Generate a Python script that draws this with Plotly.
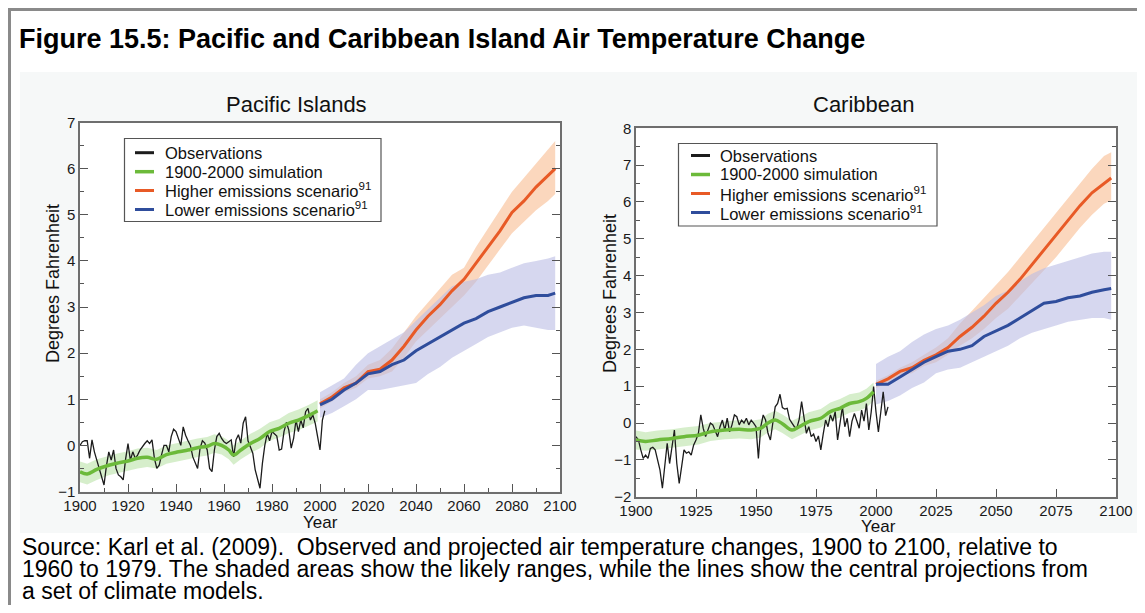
import plotly.graph_objects as go

PAGE_W, PAGE_H = 1145, 613
BODY_MARGIN = 8
W, H = PAGE_W - 2 * BODY_MARGIN, PAGE_H - 2 * BODY_MARGIN
F = "Arial, 'Liberation Sans', sans-serif"

# ---------------- data ----------------
pac_obs_years = list(range(1900, 2003))
pac_obs = [0.0, 0.08, 0.1, 0.1, -0.28, 0.12, -0.14, -0.32, -0.5, -0.7,
           -0.86, -0.45, -0.14, -0.32, -0.1, -0.5, -0.64, -0.68, -0.75, -0.3,
           0.04, -0.32, -0.14, -0.28, -0.21, -0.1, -0.02, 0.04, 0.1, 0.04,
           0.12, -0.28, -0.5, -0.43, -0.2, 0.0, 0.0, -0.14, 0.19, 0.35,
           0.3, 0.15, 0.0, 0.4, 0.22, 0.1, 0.0, -0.25, -0.39, -0.5,
           -0.07, 0.1, 0.05, -0.1, -0.5, -0.57, -0.1, 0.19, 0.26, 0.15,
           0.08, 0.04, 0.08, 0.12, -0.25, 0.12, 0.23, 0.05, 0.48, 0.62,
           0.1, -0.05, -0.17, -0.53, -0.75, -0.93, -0.39, 0.0, 0.26, 0.1,
           0.3, 0.25, 0.2, -0.1, -0.08, 0.3, 0.5, 0.33, -0.06, 0.15,
           0.55, 0.3, 0.55, 0.38, 0.73, 0.8, 0.55, 0.66, 0.48, 0.19,
           -0.1, 0.55, 0.75]

pac_sim_years = [1900, 1903, 1907, 1912, 1916, 1920, 1924, 1928, 1932, 1936, 1941, 1945, 1949, 1953,
                 1956, 1959, 1962, 1964, 1967, 1971, 1975, 1979, 1983, 1987, 1991, 1995, 1999]
pac_sim = [-0.57, -0.62, -0.52, -0.43, -0.38, -0.34, -0.28, -0.26, -0.3, -0.2, -0.14, -0.1, -0.05, -0.02,
           0.04, 0.0, -0.1, -0.21, -0.1, 0.04, 0.15, 0.3, 0.37, 0.48, 0.55, 0.64, 0.75]
pac_sim_hi = [-0.35, -0.4, -0.3, -0.22, -0.17, -0.13, -0.07, -0.05, -0.1, 0.0, 0.06, 0.1, 0.15, 0.18,
              0.24, 0.2, 0.1, 0.0, 0.1, 0.25, 0.36, 0.5, 0.57, 0.7, 0.78, 0.87, 0.98]
pac_sim_lo = [-0.8, -0.85, -0.75, -0.65, -0.6, -0.55, -0.5, -0.47, -0.5, -0.4, -0.34, -0.3, -0.25, -0.22,
              -0.16, -0.2, -0.3, -0.42, -0.3, -0.17, -0.06, 0.1, 0.17, 0.27, 0.33, 0.42, 0.52]

proj_years = [2000, 2005, 2010, 2015, 2020, 2025, 2030, 2035, 2040, 2045, 2050,
              2055, 2060, 2065, 2070, 2075, 2080, 2085, 2090, 2095, 2098]

pac_high = [0.9, 1.05, 1.25, 1.35, 1.6, 1.65, 1.85, 2.15, 2.5, 2.8, 3.05,
            3.35, 3.6, 3.95, 4.3, 4.65, 5.05, 5.3, 5.6, 5.85, 6.0]
pac_high_hi = [1.0, 1.15, 1.35, 1.5, 1.75, 1.85, 2.1, 2.45, 2.8, 3.1, 3.4,
               3.7, 3.85, 4.3, 4.7, 5.1, 5.5, 5.8, 6.1, 6.4, 6.6]
pac_high_lo = [0.8, 0.95, 1.15, 1.25, 1.45, 1.5, 1.6, 1.9, 2.25, 2.5, 2.75,
               3.0, 3.25, 3.55, 3.9, 4.25, 4.6, 4.85, 5.1, 5.3, 5.45]
pac_low = [0.88, 1.0, 1.2, 1.35, 1.55, 1.6, 1.75, 1.85, 2.05, 2.2, 2.35,
           2.5, 2.65, 2.75, 2.9, 3.0, 3.1, 3.2, 3.25, 3.25, 3.3]
pac_low_hi = [1.15, 1.3, 1.45, 1.75, 2.0, 2.15, 2.3, 2.45, 2.7, 2.95, 3.2,
              3.45, 3.55, 3.6, 3.7, 3.75, 3.85, 3.95, 4.0, 4.05, 4.1]
pac_low_lo = [0.6, 0.7, 0.85, 1.0, 1.2, 1.2, 1.25, 1.3, 1.35, 1.55, 1.7,
              1.9, 2.05, 2.2, 2.35, 2.45, 2.55, 2.6, 2.55, 2.5, 2.5]

car_obs_years = list(range(1900, 2006))
car_obs = [-0.37, -0.46, -0.73, -0.96, -0.87, -0.96, -0.69, -0.66, -0.73, -1.0,
           -1.28, -1.77, -1.1, -0.55, -1.1, -0.69, -0.19, -1.1, -1.64, -1.19,
           -0.73, -0.82, -0.78, -0.87, -0.6, -0.46, -0.28, 0.22, -0.14, -0.37,
           -0.19, 0.0, -0.05, -0.24, -0.37, -0.1, 0.08, -0.19, 0.13, -0.24,
           -0.05, 0.22, 0.17, -0.05, 0.08, 0.0, 0.13, -0.05, 0.08, 0.0,
           -0.1, -0.96, -0.1, 0.22, 0.08, -0.28, -0.46, 0.0, 0.44, 0.53,
           0.78, 0.42, 0.38, 0.4, 0.1, 0.0, -0.1, -0.14, 0.1, 0.58,
           0.08, -0.28, -0.1, -0.37, -0.3, -0.5, -0.35, -0.73, -0.3, 0.08,
           -0.1, 0.22, 0.05, 0.31, -0.46, 0.0, 0.44, -0.1, 0.13, -0.37,
           0.05, 0.26, 0.05, -0.14, 0.35, 0.05, 0.53, -0.19, 0.3, 0.99,
           0.3, -0.24, 0.3, 0.85, 0.2, 0.44]

car_sim_years = [1900, 1904, 1909, 1915, 1920, 1926, 1931, 1937, 1943, 1948, 1952, 1955,
                 1958, 1961, 1965, 1968, 1972, 1977, 1981, 1985, 1989, 1993, 1996, 1999]
car_sim = [-0.46, -0.5, -0.46, -0.42, -0.37, -0.33, -0.24, -0.19, -0.17, -0.19, -0.14, 0.0,
           0.08, -0.02, -0.19, -0.1, 0.04, 0.13, 0.31, 0.4, 0.53, 0.58, 0.67, 0.85]
car_sim_hi = [-0.2, -0.25, -0.2, -0.17, -0.12, -0.08, 0.0, 0.05, 0.08, 0.06, 0.1, 0.25,
              0.33, 0.23, 0.06, 0.15, 0.29, 0.38, 0.56, 0.65, 0.78, 0.83, 0.93, 1.1]
car_sim_lo = [-0.72, -0.75, -0.72, -0.67, -0.62, -0.58, -0.49, -0.44, -0.42, -0.44, -0.39, -0.25,
              -0.17, -0.27, -0.44, -0.35, -0.21, -0.12, 0.06, 0.15, 0.28, 0.33, 0.42, 0.6]

car_high = [1.05, 1.2, 1.4, 1.5, 1.7, 1.85, 2.05, 2.35, 2.6, 2.9, 3.25,
            3.55, 3.9, 4.3, 4.7, 5.1, 5.5, 5.9, 6.25, 6.5, 6.65]
car_high_hi = [1.15, 1.3, 1.5, 1.65, 1.85, 2.05, 2.3, 2.7, 3.05, 3.4, 3.75,
               4.1, 4.5, 4.9, 5.3, 5.7, 6.1, 6.5, 6.9, 7.25, 7.35]
car_high_lo = [0.95, 1.1, 1.3, 1.35, 1.55, 1.65, 1.85, 2.1, 2.3, 2.55, 2.85,
               3.1, 3.45, 3.8, 4.15, 4.5, 4.9, 5.3, 5.65, 5.95, 6.05]
car_low = [1.05, 1.05, 1.25, 1.45, 1.65, 1.8, 1.95, 2.0, 2.1, 2.35, 2.5,
           2.65, 2.85, 3.05, 3.25, 3.3, 3.4, 3.45, 3.55, 3.62, 3.65]
car_low_hi = [1.6, 1.8, 1.95, 2.2, 2.4, 2.55, 2.65, 2.8, 3.0, 3.2, 3.45,
              3.6, 3.85, 4.05, 4.2, 4.3, 4.4, 4.5, 4.6, 4.65, 4.65]
car_low_lo = [0.5, 0.6, 0.75, 0.95, 1.1, 1.35, 1.45, 1.5, 1.65, 1.8, 1.95,
              2.1, 2.3, 2.45, 2.55, 2.65, 2.75, 2.8, 2.85, 2.85, 2.8]

legend_names = ["Observations", "1900-2000 simulation",
                "Higher emissions scenario<sup>91</sup>", "Lower emissions scenario<sup>91</sup>"]

caption_lines = [
    "Source: Karl et al. (2009).  Observed and projected air temperature changes, 1900 to 2100, relative to",
    "1960 to 1979. The shaded areas show the likely ranges, while the lines show the central projections from",
    "a set of climate models.",
]

# ---------------- styles ----------------
C_OBS = "#1c1c1c"
C_SIM = "#6cba3a"
C_HIGH = "#e85a26"
C_LOW = "#2f4d9c"
B_SIM = "rgba(200,232,185,0.75)"
B_HIGH = "rgba(250,205,172,0.8)"
B_LOW = "rgba(186,188,228,0.6)"
LEGEND_COLORS = [C_OBS, C_SIM, C_HIGH, C_LOW]
LEGEND_WIDTHS = [3, 3.5, 3, 3]


def px(x):
    """page pixel x -> paper fraction"""
    return (x - BODY_MARGIN) / W


def py(y):
    """page pixel y -> paper fraction"""
    return 1 - (y - BODY_MARGIN) / H


def band(x, hi, lo, color, xa, ya):
    return go.Scatter(x=list(x) + list(x)[::-1], y=list(hi) + list(lo)[::-1],
                      fill="toself", fillcolor=color, line=dict(width=0),
                      mode="lines", showlegend=False, hoverinfo="skip",
                      xaxis=xa, yaxis=ya)


fig = go.Figure()

panels = [
    ("x", "y", pac_obs_years, pac_obs, pac_sim_years, pac_sim, pac_sim_hi, pac_sim_lo,
     pac_high, pac_high_hi, pac_high_lo, pac_low, pac_low_hi, pac_low_lo),
    ("x2", "y2", car_obs_years, car_obs, car_sim_years, car_sim, car_sim_hi, car_sim_lo,
     car_high, car_high_hi, car_high_lo, car_low, car_low_hi, car_low_lo),
]

for (xa, ya, oy, ov, sy, sv, shi, slo, hv, hhi, hlo, lv, lhi, llo) in panels:
    fig.add_trace(band(sy, shi, slo, B_SIM, xa, ya))
    fig.add_trace(band(proj_years, hhi, hlo, B_HIGH, xa, ya))
    fig.add_trace(band(proj_years, lhi, llo, B_LOW, xa, ya))
    fig.add_trace(go.Scatter(x=oy, y=ov, mode="lines", name=legend_names[0], showlegend=False,
                             line=dict(color=C_OBS, width=1.3), xaxis=xa, yaxis=ya))
    fig.add_trace(go.Scatter(x=sy, y=sv, mode="lines", name=legend_names[1], showlegend=False,
                             line_shape="spline", line=dict(color=C_SIM, width=3.5), xaxis=xa, yaxis=ya))
    fig.add_trace(go.Scatter(x=proj_years, y=hv, mode="lines", name=legend_names[2], showlegend=False,
                             line=dict(color=C_HIGH, width=3), xaxis=xa, yaxis=ya))
    fig.add_trace(go.Scatter(x=proj_years, y=lv, mode="lines", name=legend_names[3], showlegend=False,
                             line=dict(color=C_LOW, width=3), xaxis=xa, yaxis=ya))

axis_common = dict(showgrid=False, zeroline=False, showline=True, linecolor="#6e6e6e", linewidth=1.5,
                   ticks="inside", ticklen=8, tickwidth=1.2, tickcolor="#555", automargin=False,
                   tickfont=dict(family=F, size=15, color="#1a1a1a"), fixedrange=True)

shapes = [
    # light panel behind the two charts
    dict(type="rect", xref="paper", yref="paper", x0=px(20), x1=px(1160), y0=py(533), y1=py(72),
         fillcolor="#f6f8f8", line=dict(width=0), layer="below"),
    dict(type="rect", xref="paper", yref="paper", x0=px(80), x1=px(560), y0=py(491.5), y1=py(122.5),
         fillcolor="white", line=dict(width=0), layer="below"),
    dict(type="rect", xref="paper", yref="paper", x0=px(636), x1=px(1116), y0=py(496.7), y1=py(128.3),
         fillcolor="white", line=dict(width=0), layer="below"),
    # outer grey frame
    dict(type="rect", xref="paper", yref="paper", x0=px(9.5), x1=px(1170), y0=py(650), y1=py(9.5),
         fillcolor="rgba(0,0,0,0)", line=dict(width=3, color="#8a8a8a"), layer="above"),
]

annotations = [
    dict(text="<b>Figure 15.5: Pacific and Caribbean Island Air Temperature Change</b>",
         x=px(17), y=py(39), xanchor="left", yanchor="middle",
         font=dict(family=F, size=27, color="#000")),
    dict(text="Pacific Islands", x=px(296), y=py(105), xanchor="center", yanchor="middle",
         font=dict(family=F, size=22, color="#111")),
    dict(text="Caribbean", x=px(864), y=py(105), xanchor="center", yanchor="middle",
         font=dict(family=F, size=22, color="#111")),
    dict(text="Degrees Fahrenheit", x=px(53), y=py(284), textangle=-90, xanchor="center", yanchor="middle",
         font=dict(family=F, size=18, color="#111")),
    dict(text="Degrees Fahrenheit", x=px(610), y=py(294), textangle=-90, xanchor="center", yanchor="middle",
         font=dict(family=F, size=18, color="#111")),
    dict(text="Year", x=px(320), y=py(522), xanchor="center", yanchor="middle",
         font=dict(family=F, size=17, color="#111")),
    dict(text="Year", x=px(878), y=py(526), xanchor="center", yanchor="middle",
         font=dict(family=F, size=17, color="#111")),
]
for i, line in enumerate(caption_lines):
    annotations.append(dict(text=line, x=px(20), y=py(547 + 22 * i), xanchor="left", yanchor="middle",
                            font=dict(family=F, size=23, color="#000")))

# hand-placed legends (one per panel), matching the compact boxes of the original
legend_boxes = [
    dict(x0=124.5, x1=381, y0=138.5, y1=221.5, rows=[152.7, 171.7, 190.5, 209.5], sx0=135, sx1=154, tx=163),
    dict(x0=678.5, x1=937, y0=143.5, y1=226, rows=[155.5, 174.5, 193.5, 212.5], sx0=691, sx1=710, tx=718),
]
for lb in legend_boxes:
    shapes.append(dict(type="rect", xref="paper", yref="paper", x0=px(lb["x0"]), x1=px(lb["x1"]),
                       y0=py(lb["y1"]), y1=py(lb["y0"]), fillcolor="white",
                       line=dict(width=1.2, color="#555"), layer="above"))
    for name, col, wd, ry in zip(legend_names, LEGEND_COLORS, LEGEND_WIDTHS, lb["rows"]):
        shapes.append(dict(type="line", xref="paper", yref="paper", x0=px(lb["sx0"]), x1=px(lb["sx1"]),
                           y0=py(ry), y1=py(ry), line=dict(width=wd, color=col), layer="above"))
        annotations.append(dict(text=name, x=px(lb["tx"]), y=py(ry), xanchor="left", yanchor="middle",
                                font=dict(family=F, size=16.5, color="#111")))

for a in annotations:
    a.update(xref="paper", yref="paper", showarrow=False)

fig.update_layout(
    width=W, height=H, margin=dict(l=0, r=0, t=0, b=0, autoexpand=False),
    paper_bgcolor="white", plot_bgcolor="rgba(0,0,0,0)",
    font=dict(family=F, color="#111"), showlegend=False,
    xaxis=dict(domain=[px(80), px(560)], range=[1900, 2100], tick0=1900, dtick=20, anchor="y",
               mirror=True, minor=dict(dtick=10, ticks="inside", ticklen=4, tickcolor="#555"),
               **axis_common),
    yaxis=dict(domain=[py(491.5), py(122.5)], range=[-1, 7], dtick=1, anchor="x",
               mirror="allticks", minor=dict(dtick=0.5, ticks="inside", ticklen=4, tickcolor="#555"),
               **axis_common),
    xaxis2=dict(domain=[px(636), px(1116)], range=[1900, 2100], tick0=1900, dtick=25, anchor="y2",
                mirror=True, **axis_common),
    yaxis2=dict(domain=[py(496.7), py(128.3)], range=[-2, 8], dtick=1, anchor="x2",
                mirror="allticks", minor=dict(dtick=0.5, ticks="inside", ticklen=4, tickcolor="#555"),
                **axis_common),
    shapes=shapes,
    annotations=annotations,
)

fig.write_html("out.html", config={"displayModeBar": False})
